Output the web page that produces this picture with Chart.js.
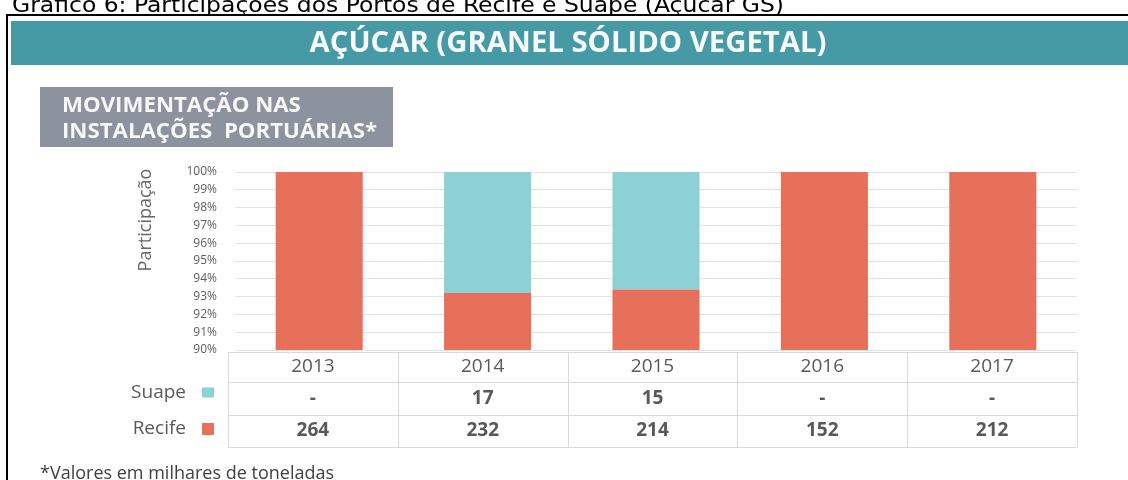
<!DOCTYPE html>
<html>
<head>
<meta charset="utf-8">
<script src="https://cdn.jsdelivr.net/npm/chart.js@4/dist/chart.umd.min.js"></script>
<style>
  html, body { margin: 0; padding: 0; background: #ffffff; }
  #wrap { position: relative; width: 1128px; height: 480px; }
</style>
</head>
<body>
<div id="wrap"><canvas id="c" width="1128" height="480"></canvas></div>
<script>
// ---- data ----
const years = ['2013', '2014', '2015', '2016', '2017'];
const recifeShare = [100, 93.2, 93.4, 100, 100];   // % share (bar heights)
const suapeShare  = [0, 6.8, 6.6, 0, 0];           // % share (bar heights)
const suapeValues  = [null, 17, 15, null, null];   // thousand tonnes (table)
const recifeValues = [264, 232, 214, 152, 212];    // thousand tonnes (table)
const yTicks = [90, 91, 92, 93, 94, 95, 96, 97, 98, 99, 100];

const pageTitle = 'Gráfico 6: Participações dos Portos de Recife e Suape (Açúcar GS)';
const bannerText = 'AÇÚCAR (GRANEL SÓLIDO VEGETAL)';
const boxLines = ['MOVIMENTAÇÃO NAS', 'INSTALAÇÕES  PORTUÁRIAS*'];
const axisTitle = 'Participação';
const footnote = '*Valores em milhares de toneladas';

const RED = '#e6705a';
const TEAL = '#8dd1d7';

function fitText(ctx, text, x, y, width, align) {
  const w = ctx.measureText(text).width;
  const s = width / w;
  ctx.save();
  ctx.textAlign = 'left';
  let sx = x;
  if (align === 'center') sx = x - width / 2;
  ctx.translate(sx, y);
  ctx.scale(s, 1);
  ctx.fillText(text, 0, 0);
  ctx.restore();
}

const decor = {
  id: 'decor',
  beforeDraw(chart) {
    const ctx = chart.ctx;
    ctx.save();
    ctx.fillStyle = '#ffffff';
    ctx.fillRect(0, 0, chart.width, chart.height);

    // page title (cut at top)
    ctx.fillStyle = '#000000';
    ctx.textBaseline = 'alphabetic';
    ctx.font = '21px "DejaVu Sans Condensed", "DejaVu Sans", sans-serif';
    fitText(ctx, pageTitle, 12, 12, 772, 'left');

    // black frame
    ctx.fillStyle = '#000000';
    ctx.fillRect(6, 14, 1122, 2);
    ctx.fillRect(6, 14, 2, 466);

    // teal banner
    ctx.fillStyle = '#459aa5';
    ctx.fillRect(11, 21, 1117, 44);
    ctx.fillStyle = '#f6fafa';
    ctx.font = 'bold 28px "Open Sans", sans-serif';
    fitText(ctx, bannerText, 568, 52, 517, 'center');

    // gray box
    ctx.fillStyle = '#8c929e';
    ctx.fillRect(40, 87, 353, 60);
    ctx.fillStyle = '#f7f7f7';
    ctx.font = 'bold 21px "Open Sans", sans-serif';
    const s2 = 315 / ctx.measureText(boxLines[1]).width;
    const w1 = ctx.measureText(boxLines[0]).width * s2;
    fitText(ctx, boxLines[0], 62, 112, w1, 'left');
    fitText(ctx, boxLines[1], 62, 138, 315, 'left');

    // axis title
    ctx.save();
    ctx.translate(146, 220);
    ctx.rotate(-Math.PI / 2);
    ctx.fillStyle = '#666666';
    ctx.font = '18px "Open Sans", sans-serif';
    ctx.textAlign = 'center';
    ctx.textBaseline = 'middle';
    ctx.fillText(axisTitle, 0, 0);
    ctx.restore();

    // footnote
    ctx.fillStyle = '#404040';
    ctx.font = '18px "Open Sans", sans-serif';
    ctx.textAlign = 'left';
    ctx.textBaseline = 'alphabetic';
    ctx.fillText(footnote, 40, 479);
    ctx.restore();
  },
  afterDraw(chart) {
    const ctx = chart.ctx;
    const area = chart.chartArea;
    const n = years.length;
    const left = area.left - 7, right = area.right;
    const colW = (right - left) / n;
    const r0 = area.bottom + 2, r1 = r0 + 30, r2 = r1 + 33, r3 = r2 + 32;
    ctx.save();
    ctx.strokeStyle = '#d9d9d9';
    ctx.lineWidth = 1;
    ctx.beginPath();
    [r0, r1, r2, r3].forEach(y => { ctx.moveTo(left, y + 0.5); ctx.lineTo(right, y + 0.5); });
    for (let i = 0; i <= n; i++) {
      const x = Math.round(left + colW * i) + 0.5;
      ctx.moveTo(x, r0); ctx.lineTo(x, r3);
    }
    ctx.stroke();

    ctx.textAlign = 'center';
    ctx.textBaseline = 'middle';
    for (let i = 0; i < n; i++) {
      const cx = left + colW * (i + 0.5);
      ctx.fillStyle = '#595959';
      ctx.font = '19px "Open Sans", sans-serif';
      ctx.fillText(years[i], cx, (r0 + r1) / 2);
      ctx.font = 'bold 19px "Open Sans", sans-serif';
      ctx.fillText(suapeValues[i] == null ? '-' : String(suapeValues[i]), cx, (r1 + r2) / 2);
      ctx.fillText(recifeValues[i] == null ? '-' : String(recifeValues[i]), cx, (r2 + r3) / 2);
    }
    // row labels + swatches
    ctx.textAlign = 'right';
    ctx.font = '19px "Open Sans", sans-serif';
    ctx.fillStyle = '#595959';
    const yS = (r1 + r2) / 2 - 6, yR = (r2 + r3) / 2 - 2;
    ctx.fillText('Suape', 186, yS);
    ctx.fillText('Recife', 186, yR);
    ctx.fillStyle = TEAL;
    ctx.fillRect(202, yS - 5, 12, 10);
    ctx.fillStyle = RED;
    ctx.fillRect(202, yR - 6, 12, 12);
    ctx.restore();
  }
};

new Chart(document.getElementById('c'), {
  type: 'bar',
  data: {
    labels: years,
    datasets: [
      { label: 'Recife', data: recifeShare, backgroundColor: RED, borderWidth: 0 },
      { label: 'Suape', data: suapeShare, backgroundColor: TEAL, borderWidth: 0 }
    ]
  },
  options: {
    responsive: false,
    animation: false,
    devicePixelRatio: 1,
    layout: { padding: { left: 131, top: 172, right: 51, bottom: 130 } },
    datasets: { bar: { barPercentage: 0.517, categoryPercentage: 1 } },
    plugins: { legend: { display: false }, tooltip: { enabled: false }, title: { display: false } },
    scales: {
      x: { stacked: true, display: false },
      y: {
        stacked: true,
        min: 90, max: 100,
        afterFit(scale) { scale.width = 104; },
        afterBuildTicks(scale) { scale.ticks = yTicks.map(v => ({ value: v })); },
        border: { display: false },
        grid: { color: '#e3e3e3', drawTicks: false },
        ticks: {
          autoSkip: false,
          padding: 18,
          color: '#5e5e5e',
          font: { family: '"Open Sans", sans-serif', size: 12 },
          callback: v => v + '%'
        }
      }
    }
  },
  plugins: [decor]
});
</script>
</body>
</html>
